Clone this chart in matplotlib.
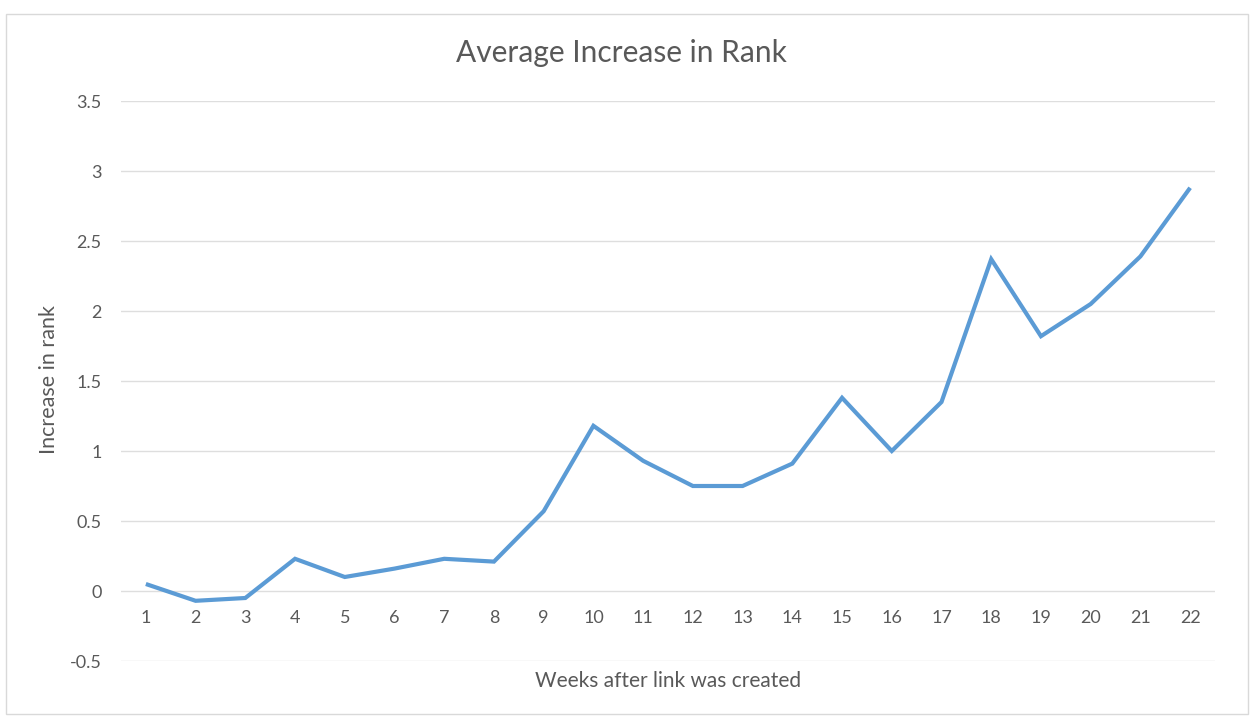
import matplotlib
matplotlib.use("Agg")
import matplotlib.pyplot as plt
from matplotlib.patches import Rectangle

weeks = list(range(1, 23))
increase = [0.05, -0.07, -0.05, 0.23, 0.10, 0.16, 0.23, 0.21, 0.57, 1.18, 0.93,
            0.75, 0.75, 0.91, 1.38, 1.00, 1.35, 2.37, 1.82, 2.05, 2.39, 2.88]
yticks = [-0.5, 0, 0.5, 1, 1.5, 2, 2.5, 3, 3.5]
ytick_labels = ["-0.5", "0", "0.5", "1", "1.5", "2", "2.5", "3", "3.5"]

plt.rcParams['font.family'] = ['Lato', 'DejaVu Sans']
W, H = 1258, 726
fig = plt.figure(figsize=(W / 100, H / 100), dpi=100)
fig.patch.set_facecolor("white")

# outer chart border
fig.patches.append(Rectangle((6 / W, (H - 714) / H), (1248 - 6) / W, (714 - 14) / H,
                             transform=fig.transFigure, fill=False,
                             edgecolor="#d9d9d9", linewidth=1.0))

ax = fig.add_axes([121 / W, (H - 661) / H, (1215 - 121) / W, (661 - 101) / H])
ax.plot(weeks, increase, color="#5B9BD5", linewidth=3.0, solid_joinstyle="miter",
        solid_capstyle="butt", zorder=3)
ax.set_xlim(0.5, 22.5)
ax.set_ylim(-0.5, 3.5)
ax.set_yticks(yticks)
ax.set_yticklabels(ytick_labels)
ax.set_xticks([])
for s in ax.spines.values():
    s.set_visible(False)
ax.grid(axis="y", color="#dedede", linewidth=1.0)
ax.set_axisbelow(True)
ax.tick_params(axis="y", length=0, pad=14, labelsize=13, labelcolor="#595959")

# category labels sit just below the zero line
for w in weeks:
    ax.text(w, -0.19, str(w), ha="center", va="center", fontsize=13, color="#595959")

fig.text(621 / W, 1 - 53 / H, "Average Increase in Rank", ha="center",
         va="center", fontsize=21.5, color="#595959")
fig.text(668 / W, 1 - 681 / H, "Weeks after link was created", ha="center",
         va="center", fontsize=15, color="#595959")
fig.text(49 / W, 1 - 380 / H, "Increase in rank", ha="center", va="center",
         rotation=90, fontsize=15.5, color="#595959")

fig.savefig("out.png", dpi=100, facecolor="white")
